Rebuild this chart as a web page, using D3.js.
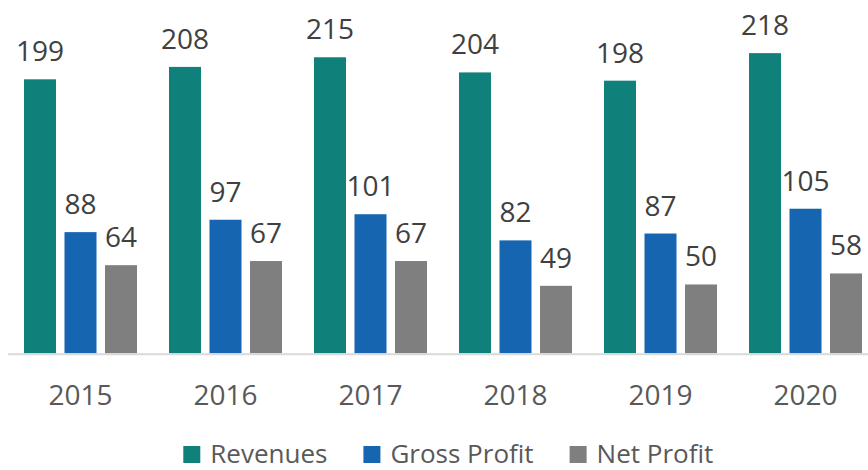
<!DOCTYPE html>
<html>
<head>
<meta charset="utf-8">
<script src="https://cdn.jsdelivr.net/npm/d3@7"></script>
<style>
  html, body { margin: 0; padding: 0; background: #fff; }
  svg { display: block; font-family: "Open Sans", sans-serif; }
</style>
</head>
<body>
<svg id="chart" width="868" height="470"></svg>
<script>
const years = ["2015", "2016", "2017", "2018", "2019", "2020"];
const seriesNames = ["Revenues", "Gross Profit", "Net Profit"];
const revenues = [199, 208, 215, 204, 198, 218];
const grossProfit = [88, 97, 101, 82, 87, 105];
const netProfit = [64, 67, 67, 49, 50, 58];
const colors = ["#10807a", "#1565b0", "#7f7f7f"];

const seriesValues = [revenues, grossProfit, netProfit];
const rows = years.map((y, i) => ({
  year: y,
  values: seriesNames.map((s, k) => ({ key: s, value: seriesValues[k][i] }))
}));

const svg = d3.select("#chart");
const baseY = 353.3;

const x0 = d3.scaleBand().domain(years).range([8, 878])
  .paddingInner(32 / 145).paddingOuter(16 / 145);
const x1 = d3.scaleBand().domain(seriesNames).range([0, x0.bandwidth()])
  .paddingInner(8.5 / 40.5).paddingOuter(0);
const y = d3.scaleLinear().domain([0, 250]).range([baseY, baseY - 250 * (274 / 199)]);
const color = d3.scaleOrdinal().domain(seriesNames).range(colors);

const groups = svg.append("g").selectAll("g").data(rows).join("g")
  .attr("transform", d => `translate(${x0(d.year)},0)`);

groups.selectAll("rect").data(d => d.values).join("rect")
  .attr("x", d => x1(d.key))
  .attr("width", x1.bandwidth())
  .attr("y", d => y(d.value))
  .attr("height", d => y(0) - y(d.value))
  .attr("fill", d => color(d.key));

groups.selectAll("text.val").data(d => d.values).join("text")
  .attr("class", "val")
  .attr("x", d => x1(d.key) + x1.bandwidth() / 2)
  .attr("y", d => y(d.value) - 18)
  .attr("text-anchor", "middle")
  .attr("font-size", 28)
  .attr("fill", "#404040")
  .text(d => d.value);

// x axis
const axis = svg.append("g").attr("transform", `translate(0,${baseY + 1})`)
  .call(d3.axisBottom(x0).tickSize(0).tickPadding(0));
axis.select(".domain").remove();
axis.append("line").attr("x1", 8).attr("x2", 868).attr("y1", 0).attr("y2", 0)
  .attr("stroke", "#d9d9d9").attr("stroke-width", 2);
axis.selectAll(".tick text")
  .attr("font-family", "Open Sans, sans-serif")
  .attr("font-size", 28)
  .attr("fill", "#595959")
  .attr("dy", 0)
  .attr("y", 405 - baseY - 1);

// legend
const legend = svg.append("g");
const items = legend.selectAll("g").data(seriesNames).join("g");
items.append("rect").attr("width", 17).attr("height", 17).attr("y", 446)
  .attr("fill", d => color(d));
items.append("text").attr("x", 27).attr("y", 463)
  .attr("font-size", 26).attr("fill", "#595959").text(d => d);
let widths = [];
items.each(function () {
  const t = d3.select(this).select("text").node().getComputedTextLength();
  widths.push(27 + t);
});
const gap = 36;
const total = d3.sum(widths) + gap * (widths.length - 1);
let cx = 448.3 - total / 2;
items.each(function (d, i) {
  d3.select(this).attr("transform", `translate(${cx},0)`);
  cx += widths[i] + gap;
});
</script>
</body>
</html>
